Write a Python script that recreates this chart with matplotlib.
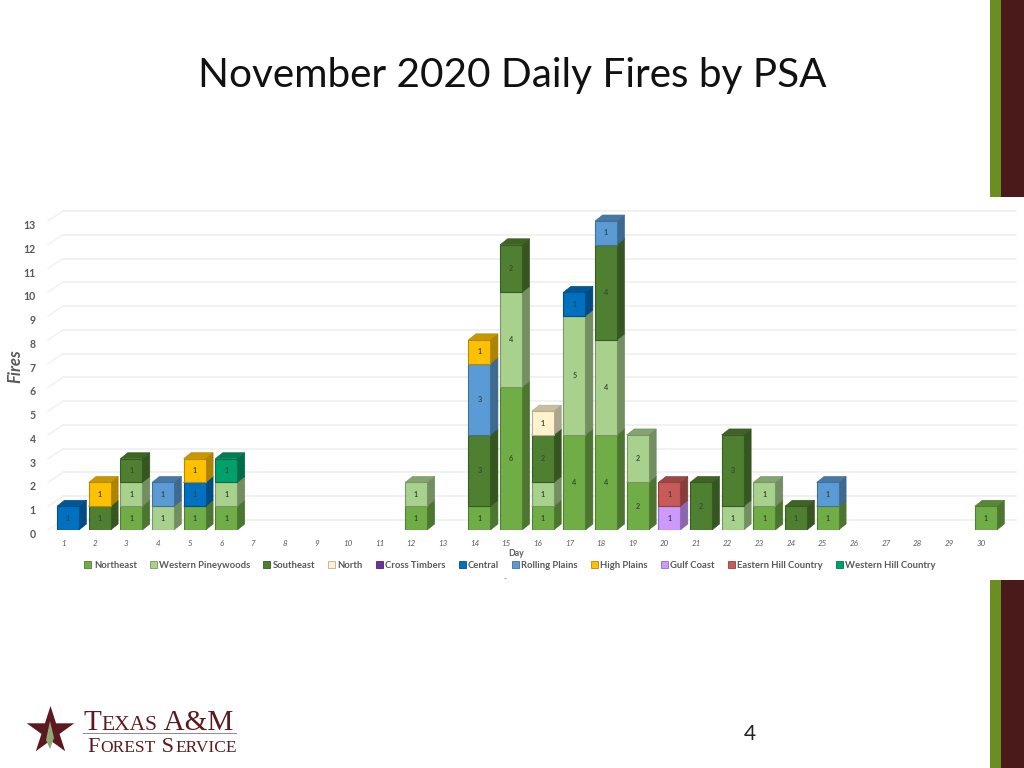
import matplotlib
matplotlib.use("Agg")
import matplotlib.pyplot as plt
import numpy as np
from matplotlib.colors import to_rgb
from matplotlib.patches import Patch, Polygon, Rectangle
from matplotlib.transforms import ScaledTranslation, Affine2D

days = list(range(1, 31))
series_names = ["Northeast", "Western Pineywoods", "Southeast", "North", "Cross Timbers", "Central",
                "Rolling Plains", "High Plains", "Gulf Coast", "Eastern Hill Country", "Western Hill Country"]
northeast = {3: 1, 5: 1, 6: 1, 12: 1, 14: 1, 15: 6, 16: 1, 17: 4, 18: 4, 19: 2, 23: 1, 25: 1, 30: 1}
western_pineywoods = {3: 1, 4: 1, 6: 1, 12: 1, 15: 4, 16: 1, 17: 5, 18: 4, 19: 2, 22: 1, 23: 1}
southeast = {2: 1, 3: 1, 14: 3, 15: 2, 16: 2, 18: 4, 21: 2, 22: 3, 24: 1}
north = {16: 1}
cross_timbers = {}
central = {1: 1, 5: 1, 17: 1}
rolling_plains = {4: 1, 14: 3, 18: 1, 25: 1}
high_plains = {2: 1, 5: 1, 14: 1}
gulf_coast = {20: 1}
eastern_hill_country = {20: 1}
western_hill_country = {6: 1}
series_values = [northeast, western_pineywoods, southeast, north, cross_timbers, central,
                 rolling_plains, high_plains, gulf_coast, eastern_hill_country, western_hill_country]
series_colors = ["#70AD47", "#A9D18E", "#4F7F30", "#FFF2CC", "#7030A0", "#0070C0",
                 "#5B9BD5", "#FFC000", "#CC99FF", "#C85A5A", "#00A06A"]
y_ticks = list(range(0, 14))

FONT = "Lato"
W, H = 1024, 768
fig = plt.figure(figsize=(W / 100, H / 100), dpi=100, facecolor="white")

# Pixel geometry of the plot
left_px, right_px, base_px, top_px = 40, 1016, 530, 202
day_px, unit_px = 31.65, 23.77
first_center_px = 68
ax = fig.add_axes([left_px / W, 1 - base_px / H, (right_px - left_px) / W, (base_px - top_px) / H])
ax.set_xlim(1 + (left_px - first_center_px) / day_px, 1 + (right_px - first_center_px) / day_px)
ax.set_ylim(0, (base_px - top_px) / unit_px)
ax.patch.set_alpha(0)
for s in ax.spines.values():
    s.set_visible(False)

bar_w = 22 / day_px
dx, dy = 7.5 / day_px, 6 / unit_px
wall_x0 = ax.get_xlim()[0] + 23 / day_px
wall_x_front = ax.get_xlim()[0] + 8 / day_px
wall_dy = 10 / unit_px

for v in y_ticks:
    ax.plot([wall_x0, ax.get_xlim()[1]], [v + wall_dy, v + wall_dy], color="#ededed", lw=1.1, zorder=1, clip_on=False)
    ax.plot([wall_x_front, wall_x0], [v, v + wall_dy], color="#f0f0f0", lw=1.0, zorder=1, clip_on=False)


def shade(c, f):
    return tuple(x * f for x in to_rgb(c))


z = 3
for d in days:
    bottom = 0
    for vals, col in zip(series_values, series_colors):
        v = vals.get(d, 0)
        if not v:
            continue
        xl, xr = d - bar_w / 2, d + bar_w / 2
        top = bottom + v
        ax.add_patch(Polygon([(xr, bottom), (xr + dx, bottom + dy), (xr + dx, top + dy), (xr, top)],
                             fc=shade(col, 0.68), ec=shade(col, 0.62), lw=0.4, zorder=z))
        ax.add_patch(Polygon([(xl, top), (xr, top), (xr + dx, top + dy), (xl + dx, top + dy)],
                             fc=shade(col, 0.78), ec=shade(col, 0.7), lw=0.4, zorder=z))
        ax.bar(d, v, width=bar_w, bottom=bottom, color=col, edgecolor=shade(col, 0.72), linewidth=0.8, zorder=z + 1)
        ax.text(d, bottom + v / 2, str(v), ha="center", va="center", fontsize=5.2, fontweight="bold",
                family=FONT, color="#3f4a3a", zorder=z + 2)
        bottom = top
        z += 3

ax.set_xticks(days)
ax.set_xticklabels([str(d) for d in days], fontsize=5.8, style="italic", family=FONT, color="#595959")
ax.set_yticks(y_ticks)
ax.set_yticklabels([str(v) for v in y_ticks], fontsize=7.6, fontweight="bold", family=FONT, color="#595959")
ax.tick_params(axis="both", length=0)
ax.tick_params(axis="x", pad=7)
ax.tick_params(axis="y", pad=3)
for lab in ax.get_xticklabels():
    lab.set_transform(lab.get_transform() + ScaledTranslation(-5 / 100, 0, fig.dpi_scale_trans))
for lab in ax.get_yticklabels():
    lab.set_transform(lab.get_transform() + ScaledTranslation(0, -3.5 / 100, fig.dpi_scale_trans))

ax.set_xlabel("Day", fontsize=6.2, fontweight="bold", family=FONT, color="#595959")
ax.xaxis.set_label_coords((516 - left_px) / (right_px - left_px), -(553 - base_px) / (base_px - top_px), transform=ax.transAxes)
ax.xaxis.label.set_va("center")
ax.set_ylabel("Fires", fontsize=12, fontweight="bold", style="italic", family=FONT, color="#595959")
ax.yaxis.set_label_coords((15 - left_px) / (right_px - left_px), (base_px - 366) / (base_px - top_px), transform=ax.transAxes)
ax.yaxis.label.set_va("center")

handles = [Patch(facecolor=c, edgecolor=shade(c, 0.72), lw=0.6) for c in series_colors]
leg = ax.legend(handles, series_names, ncol=11, frameon=False, loc="center",
                bbox_to_anchor=(510 / W, 1 - 565 / H), bbox_transform=fig.transFigure,
                handlelength=0.75, handleheight=0.75, handletextpad=0.25, columnspacing=1.37, borderpad=0, borderaxespad=0,
                prop={"family": FONT, "weight": "bold", "size": 6.8})
for t in leg.get_texts():
    t.set_color("#595959")

fig.text(505 / W, 1 - 579 / H, "-", fontsize=6, color="#595959", ha="center", va="center", family=FONT)

# Slide furniture, drawn in pixel coordinates
px = Affine2D().scale(1 / W, -1 / H).translate(0, 1) + fig.transFigure
for y0, h in [(0, 197), (580, 188)]:
    fig.add_artist(Rectangle((990, y0), 11, h, fc="#6B8E23", ec="none", transform=px))
    fig.add_artist(Rectangle((1001, y0), 23, h, fc="#4A1A1A", ec="none", transform=px))

fig.text(512.5 / W, 1 - 75 / H, "November 2020 Daily Fires by PSA", fontsize=29.2, family=FONT,
         ha="center", va="center", color="#111111")
fig.text(750 / W, 1 - 734 / H, "4", fontsize=15, family=FONT, ha="center", va="center", color="#222222")

# Logo
cx, cy, ro, ri = 50.5, 731, 25, 9.5
ang = np.deg2rad(np.arange(10) * 36 - 90)
rad = np.where(np.arange(10) % 2 == 0, ro, ri)
star = np.c_[cx + rad * np.cos(ang), cy + rad * np.sin(ang)]
fig.add_artist(Polygon(star, closed=True, fc="#5C1A1F", ec="none", transform=px))
fig.add_artist(Polygon([(50, 721), (54, 738), (50, 749), (46, 740)], closed=True, fc="#8FA876", ec="none", transform=px))


def runs(x, y, parts):
    r = fig.canvas.get_renderer()
    for s, size in parts:
        t = fig.text(x / W, 1 - y / H, s, fontsize=size, family="Liberation Serif", color="#5C1A1F", va="baseline", ha="left")
        x = t.get_window_extent(r).x1 + 0.8


runs(83, 730, [("T", 21), ("EXAS", 15.5), (" A&M", 21)])
runs(87, 752, [("F", 16), ("OREST", 12.5), (" S", 16), ("ERVICE", 12.5)])
fig.add_artist(Rectangle((83, 733), 154, 1, fc="#9c8a8a", ec="none", transform=px))

fig.savefig("out.png", dpi=100)
